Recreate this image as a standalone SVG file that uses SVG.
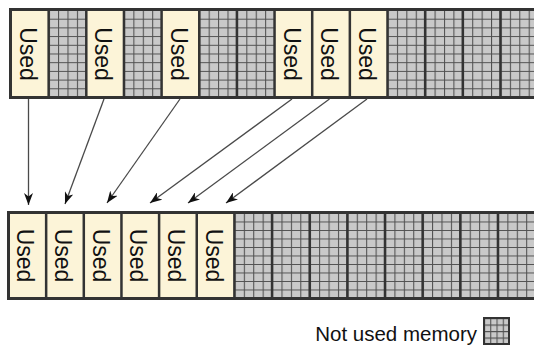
<svg xmlns="http://www.w3.org/2000/svg" xmlns:xlink="http://www.w3.org/1999/xlink" width="534" height="354" viewBox="0 0 534 354">
<style>
.used{fill:#fcf4d8}
.lbl{font-family:"Liberation Sans",Arial,sans-serif;font-size:23px;fill:#111;text-anchor:middle;dominant-baseline:central}
.sep{stroke:#333;stroke-width:2.5}
.border{fill:none;stroke:#333;stroke-width:3}
.conn{stroke:#4a4a4a;stroke-width:1.3;fill:none;marker-end:url(#arr)}
.legend{font-family:"Liberation Sans",Arial,sans-serif;font-size:20.5px;fill:#111;text-anchor:end}
</style>
<defs>
<pattern id="gTop" patternUnits="userSpaceOnUse" x="11" y="10" width="9.4125" height="8.7">
<rect width="9.4125" height="8.7" fill="#c9c9c9"/>
<path d="M0.5,0V8.7M0,0.5H9.4125" stroke="#505050" stroke-width="1.1"/>
</pattern>
<pattern id="gBot" patternUnits="userSpaceOnUse" x="8.5" y="213" width="9.4125" height="8.5">
<rect width="9.4125" height="8.5" fill="#c9c9c9"/>
<path d="M0.5,0V8.5M0,0.5H9.4125" stroke="#505050" stroke-width="1.1"/>
</pattern>
<pattern id="gLeg" patternUnits="userSpaceOnUse" x="484" y="318" width="6.25" height="6.5">
<rect width="6.25" height="6.5" fill="#c9c9c9"/>
<path d="M0.5,0V6.5M0,0.5H6.25" stroke="#505050" stroke-width="1.1"/>
</pattern>
<marker id="arr" markerUnits="userSpaceOnUse" markerWidth="13" markerHeight="9" refX="12" refY="4.5" orient="auto">
<path d="M0,0 L12,4.5 L0,9 L3.5,4.5 Z" fill="#111"/>
</marker>
</defs>

<g id="top-row">
<g id="top-0"><rect class="used" x="11" y="10" width="37.65" height="87"/><text class="lbl" transform="translate(28,54) rotate(90)">Used</text></g>
<g id="top-1"><rect fill="url(#gTop)" x="48.65" y="10" width="37.65" height="87"/></g>
<g id="top-2"><rect class="used" x="86.3" y="10" width="37.65" height="87"/><text class="lbl" transform="translate(103.3,54) rotate(90)">Used</text></g>
<g id="top-3"><rect fill="url(#gTop)" x="123.95" y="10" width="37.65" height="87"/></g>
<g id="top-4"><rect class="used" x="161.6" y="10" width="37.65" height="87"/><text class="lbl" transform="translate(178.6,54) rotate(90)">Used</text></g>
<g id="top-5"><rect fill="url(#gTop)" x="199.25" y="10" width="37.65" height="87"/></g>
<g id="top-6"><rect fill="url(#gTop)" x="236.9" y="10" width="37.65" height="87"/></g>
<g id="top-7"><rect class="used" x="274.55" y="10" width="37.65" height="87"/><text class="lbl" transform="translate(291.6,54) rotate(90)">Used</text></g>
<g id="top-8"><rect class="used" x="312.2" y="10" width="37.65" height="87"/><text class="lbl" transform="translate(329.2,54) rotate(90)">Used</text></g>
<g id="top-9"><rect class="used" x="349.85" y="10" width="37.65" height="87"/><text class="lbl" transform="translate(366.9,54) rotate(90)">Used</text></g>
<g id="top-10"><rect fill="url(#gTop)" x="387.5" y="10" width="37.65" height="87"/></g>
<g id="top-11"><rect fill="url(#gTop)" x="425.15" y="10" width="37.65" height="87"/></g>
<g id="top-12"><rect fill="url(#gTop)" x="462.8" y="10" width="37.65" height="87"/></g>
<g id="top-13"><rect fill="url(#gTop)" x="500.45" y="10" width="37.65" height="87"/></g>
<path class="sep" d="M48.65,10V97M86.3,10V97M123.95,10V97M161.6,10V97M199.25,10V97M236.9,10V97M274.55,10V97M312.2,10V97M349.85,10V97M387.5,10V97M425.15,10V97M462.8,10V97M500.45,10V97"/>
<rect class="border" x="10.5" y="9.5" width="540" height="88"/>
</g>

<g id="bottom-row">
<g id="bot-0"><rect class="used" x="8.5" y="213" width="37.65" height="85"/><text class="lbl" transform="translate(25.3,255.5) rotate(90)">Used</text></g>
<g id="bot-1"><rect class="used" x="46.15" y="213" width="37.65" height="85"/><text class="lbl" transform="translate(63,255.5) rotate(90)">Used</text></g>
<g id="bot-2"><rect class="used" x="83.8" y="213" width="37.65" height="85"/><text class="lbl" transform="translate(100.6,255.5) rotate(90)">Used</text></g>
<g id="bot-3"><rect class="used" x="121.45" y="213" width="37.65" height="85"/><text class="lbl" transform="translate(138.3,255.5) rotate(90)">Used</text></g>
<g id="bot-4"><rect class="used" x="159.1" y="213" width="37.65" height="85"/><text class="lbl" transform="translate(175.9,255.5) rotate(90)">Used</text></g>
<g id="bot-5"><rect class="used" x="196.75" y="213" width="37.65" height="85"/><text class="lbl" transform="translate(213.6,255.5) rotate(90)">Used</text></g>
<g id="bot-6"><rect fill="url(#gBot)" x="234.4" y="213" width="37.65" height="85"/></g>
<g id="bot-7"><rect fill="url(#gBot)" x="272.05" y="213" width="37.65" height="85"/></g>
<g id="bot-8"><rect fill="url(#gBot)" x="309.7" y="213" width="37.65" height="85"/></g>
<g id="bot-9"><rect fill="url(#gBot)" x="347.35" y="213" width="37.65" height="85"/></g>
<g id="bot-10"><rect fill="url(#gBot)" x="385" y="213" width="37.65" height="85"/></g>
<g id="bot-11"><rect fill="url(#gBot)" x="422.65" y="213" width="37.65" height="85"/></g>
<g id="bot-12"><rect fill="url(#gBot)" x="460.3" y="213" width="37.65" height="85"/></g>
<g id="bot-13"><rect fill="url(#gBot)" x="497.95" y="213" width="37.65" height="85"/></g>
<path class="sep" d="M46.15,213V298M83.8,213V298M121.45,213V298M159.1,213V298M196.75,213V298M234.4,213V298M272.05,213V298M309.7,213V298M347.35,213V298M385,213V298M422.65,213V298M460.3,213V298M497.95,213V298"/>
<rect class="border" x="8.5" y="212.5" width="540" height="86"/>
</g>

<g id="connectors">
<line class="conn" x1="28.5" y1="99" x2="28.5" y2="205"/>
<line class="conn" x1="104" y1="99" x2="65" y2="204"/>
<line class="conn" x1="180" y1="99" x2="107" y2="203"/>
<line class="conn" x1="292" y1="99" x2="150" y2="203"/>
<line class="conn" x1="329.5" y1="99" x2="188" y2="203"/>
<line class="conn" x1="367" y1="99" x2="226" y2="203"/>
</g>

<g id="legend">
<text class="legend" x="477" y="341">Not used memory</text>
<rect x="484" y="318" width="25" height="26" fill="url(#gLeg)"/>
<rect x="484" y="318" width="25" height="26" fill="none" stroke="#333" stroke-width="2"/>
</g>
</svg>
